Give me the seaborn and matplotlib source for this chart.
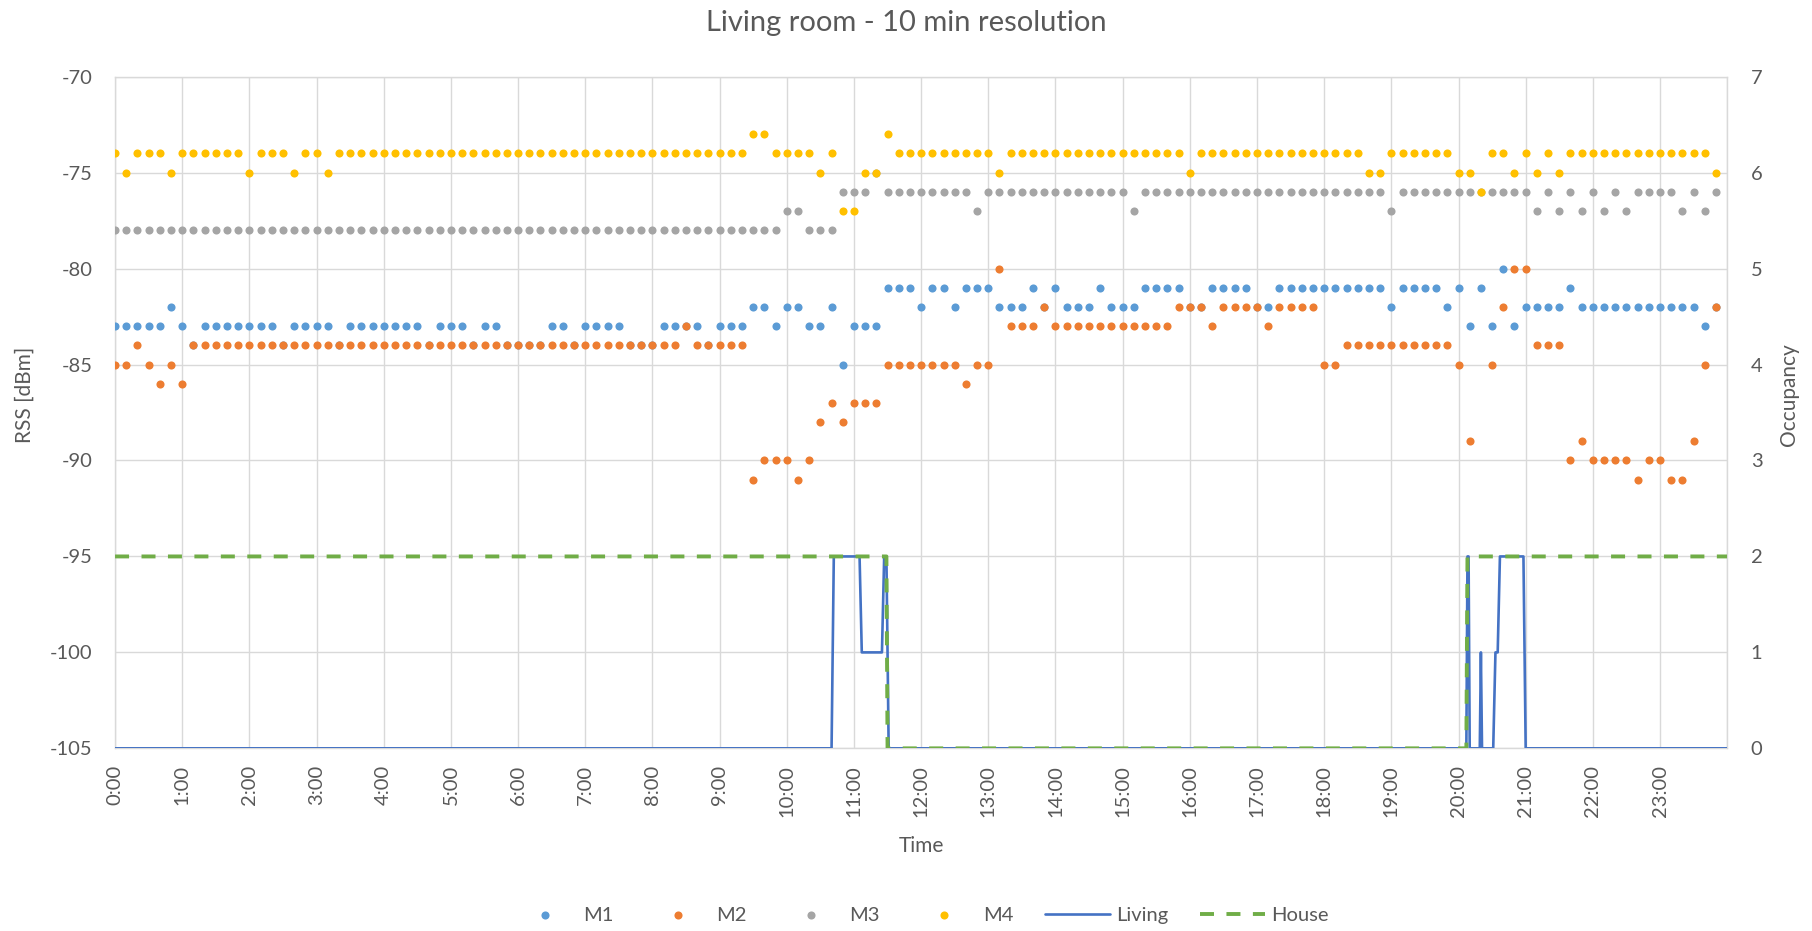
import numpy as np
import pandas as pd
import matplotlib
matplotlib.use("Agg")
import matplotlib.pyplot as plt
import seaborn as sns

# RSS readings (dBm) every 10 minutes, one row per hour of the day
m1 = [
    -83, -83, -83, -83, -83, -82,
    -83, -84, -83, -83, -83, -83,
    -83, -83, -83, -84, -83, -83,
    -83, -83, -84, -83, -83, -83,
    -83, -83, -83, -83, -84, -83,
    -83, -83, -84, -83, -83, -84,
    -84, -84, -84, -83, -83, -84,
    -83, -83, -83, -83, -84, -84,
    -84, -83, -83, -83, -83, -84,
    -83, -83, -83, -82, -82, -83,
    -82, -82, -83, -83, -82, -85,
    -83, -83, -83, -81, -81, -81,
    -82, -81, -81, -82, -81, -81,
    -81, -82, -82, -82, -81, -82,
    -81, -82, -82, -82, -81, -82,
    -82, -82, -81, -81, -81, -81,
    -82, -82, -81, -81, -81, -81,
    -82, -82, -81, -81, -81, -81,
    -81, -81, -81, -81, -81, -81,
    -82, -81, -81, -81, -81, -82,
    -81, -83, -81, -83, -80, -83,
    -82, -82, -82, -82, -81, -82,
    -82, -82, -82, -82, -82, -82,
    -82, -82, -82, -82, -83, -82,
]
m2 = [
    -85, -85, -84, -85, -86, -85,
    -86, -84, -84, -84, -84, -84,
    -84, -84, -84, -84, -84, -84,
    -84, -84, -84, -84, -84, -84,
    -84, -84, -84, -84, -84, -84,
    -84, -84, -84, -84, -84, -84,
    -84, -84, -84, -84, -84, -84,
    -84, -84, -84, -84, -84, -84,
    -84, -84, -84, -83, -84, -84,
    -84, -84, -84, -91, -90, -90,
    -90, -91, -90, -88, -87, -88,
    -87, -87, -87, -85, -85, -85,
    -85, -85, -85, -85, -86, -85,
    -85, -80, -83, -83, -83, -82,
    -83, -83, -83, -83, -83, -83,
    -83, -83, -83, -83, -83, -82,
    -82, -82, -83, -82, -82, -82,
    -82, -83, -82, -82, -82, -82,
    -85, -85, -84, -84, -84, -84,
    -84, -84, -84, -84, -84, -84,
    -85, -89, np.nan, -85, -82, -80,
    -80, -84, -84, -84, -90, -89,
    -90, -90, -90, -90, -91, -90,
    -90, -91, -91, -89, -85, -82,
]
m3 = [
    -78, -78, -78, -78, -78, -78,
    -78, -78, -78, -78, -78, -78,
    -78, -78, -78, -78, -78, -78,
    -78, -78, -78, -78, -78, -78,
    -78, -78, -78, -78, -78, -78,
    -78, -78, -78, -78, -78, -78,
    -78, -78, -78, -78, -78, -78,
    -78, -78, -78, -78, -78, -78,
    -78, -78, -78, -78, -78, -78,
    -78, -78, -78, -78, -78, -78,
    -77, -77, -78, -78, -78, -76,
    -76, -76, -75, -76, -76, -76,
    -76, -76, -76, -76, -76, -77,
    -76, -76, -76, -76, -76, -76,
    -76, -76, -76, -76, -76, -76,
    -76, -77, -76, -76, -76, -76,
    -76, -76, -76, -76, -76, -76,
    -76, -76, -76, -76, -76, -76,
    -76, -76, -76, -76, -76, -76,
    -77, -76, -76, -76, -76, -76,
    -76, -76, -76, -76, -76, -76,
    -76, -77, -76, -77, -76, -77,
    -76, -77, -76, -77, -76, -76,
    -76, -76, -77, -76, -77, -76,
]
m4 = [
    -74, -75, -74, -74, -74, -75,
    -74, -74, -74, -74, -74, -74,
    -75, -74, -74, -74, -75, -74,
    -74, -75, -74, -74, -74, -74,
    -74, -74, -74, -74, -74, -74,
    -74, -74, -74, -74, -74, -74,
    -74, -74, -74, -74, -74, -74,
    -74, -74, -74, -74, -74, -74,
    -74, -74, -74, -74, -74, -74,
    -74, -74, -74, -73, -73, -74,
    -74, -74, -74, -75, -74, -77,
    -77, -75, -75, -73, -74, -74,
    -74, -74, -74, -74, -74, -74,
    -74, -75, -74, -74, -74, -74,
    -74, -74, -74, -74, -74, -74,
    -74, -74, -74, -74, -74, -74,
    -75, -74, -74, -74, -74, -74,
    -74, -74, -74, -74, -74, -74,
    -74, -74, -74, -74, -75, -75,
    -74, -74, -74, -74, -74, -74,
    -75, -75, -76, -74, -74, -75,
    -74, -75, -74, -75, -74, -74,
    -74, -74, -74, -74, -74, -74,
    -74, -74, -74, -74, -74, -75,
]
series_names = ["M1", "M2", "M3", "M4"]
series_colors = ["#5B9BD5", "#ED7D31", "#A5A5A5", "#FFC000"]
hour_labels = [f"{h}:00" for h in range(24)]

# Occupancy change points: minute of the day and number of people present
living_min = [0, 640, 642, 665, 667, 685, 687, 689, 691, 1207, 1208, 1209, 1210,
              1219, 1220, 1221, 1231, 1233, 1235, 1237, 1258, 1260, 1440]
living_occ = [0, 0, 2, 2, 1, 1, 2, 2, 0, 0, 2, 2, 0,
              0, 1, 0, 0, 1, 1, 2, 2, 0, 0]
house_min = [0, 689, 690, 1207, 1208, 1440]
house_occ = [2, 2, 0, 0, 2, 2]

sns.set_style("white")
plt.rcParams["font.family"] = ["Lato", "DejaVu Sans"]
plt.rcParams["axes.unicode_minus"] = False
TXT = "#595959"
GRID = "#d9d9d9"

fig = plt.figure(figsize=(18.12, 9.31), dpi=100)
ax = fig.add_axes([0.0635, 0.1962, 0.8897, 0.7214])

rss = pd.DataFrame({"slot": np.arange(len(m1))})
for name, vals in zip(series_names, [m1, m2, m3, m4]):
    rss[name] = vals

for name, col in zip(series_names, series_colors):
    sns.scatterplot(data=rss, x="slot", y=name, ax=ax, color=col, s=34,
                    linewidth=0, label=name, zorder=3)

ax.set_xlim(0, 144)
ax.set_ylim(-105, -70)
ax.set_yticks(np.arange(-105, -69, 5))
ax.set_xticks(np.arange(0, 145, 6))
ax.set_xticklabels(hour_labels + [""], rotation=90)
ax.grid(True, color=GRID, linewidth=1.0)
ax.set_axisbelow(True)
for sp in ax.spines.values():
    sp.set_color(GRID)
    sp.set_linewidth(1.0)
ax.tick_params(axis="y", length=0, pad=16, labelsize=14.5, labelcolor=TXT)
ax.tick_params(axis="x", length=0, pad=12, labelsize=14.5, labelcolor=TXT)
ax.set_xlabel("Time", fontsize=15, color=TXT)
ax.set_ylabel("RSS [dBm]", fontsize=15, color=TXT)
ax.xaxis.set_label_coords(0.5, -0.1455)
ax.xaxis.label.set_va("center")
ax.yaxis.set_label_coords(-0.0558, 0.526)
ax.yaxis.label.set_va("center")

ax2 = ax.twinx()
living = pd.DataFrame({"slot": np.array(living_min) / 10, "occ": living_occ})
house = pd.DataFrame({"slot": np.array(house_min) / 10, "occ": house_occ})
sns.lineplot(data=living, x="slot", y="occ", ax=ax2, color="#4472C4",
             linewidth=1.9, estimator=None, sort=False, label="Living")
sns.lineplot(data=house, x="slot", y="occ", ax=ax2, color="#70AD47",
             linewidth=2.8, estimator=None, sort=False, label="House",
             linestyle=(0, (3.6, 3.2)))
ax2.set_ylim(0, 7)
ax2.set_yticks(range(0, 8))
ax2.set_xlim(0, 144)
ax2.tick_params(axis="y", length=0, pad=17, labelsize=14.5, labelcolor=TXT)
ax2.set_ylabel("Occupancy", fontsize=15, color=TXT)
ax2.yaxis.set_label_coords(1.0385, 0.526)
ax2.yaxis.label.set_va("center")
for sp in ax2.spines.values():
    sp.set_visible(False)

h1, l1 = ax.get_legend_handles_labels()
h2, l2 = ax2.get_legend_handles_labels()
ax.get_legend().remove()
ax2.get_legend().remove()
fig.legend(h1 + h2, l1 + l2, loc="center", bbox_to_anchor=(0.508, 0.017),
           ncol=6, frameon=False, fontsize=14.5, labelcolor=TXT,
           handlelength=3.2, handletextpad=0.3, columnspacing=1.6,
           markerscale=1.0)

fig.suptitle("Living room - 10 min resolution", x=0.5, y=0.975, va="center",
             fontsize=21, color=TXT)

fig.savefig("out.png", dpi=100)
